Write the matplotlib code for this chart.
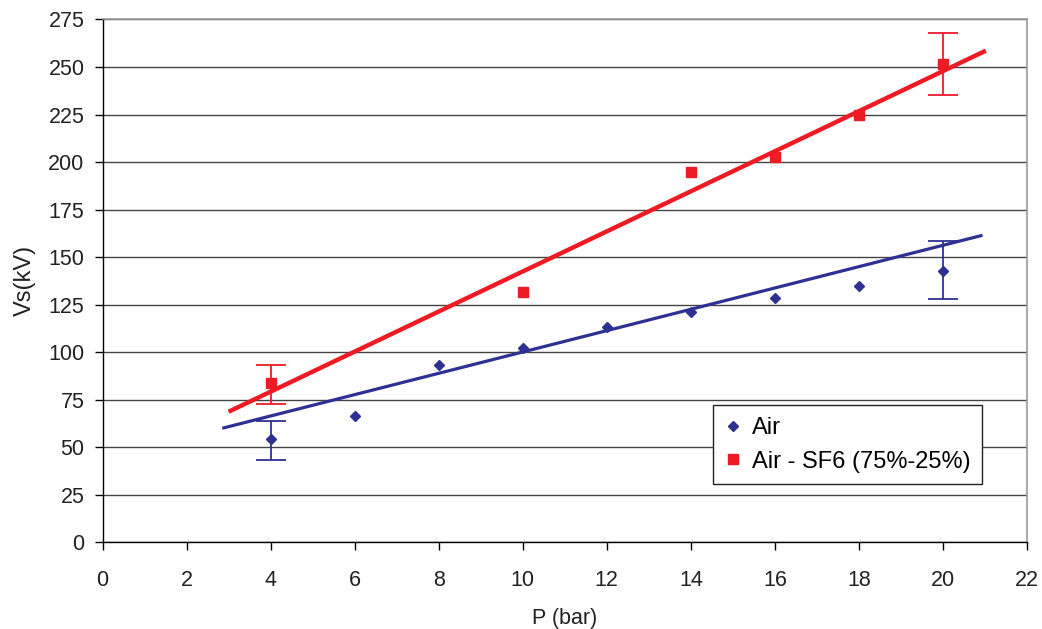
import numpy as np
import matplotlib.pyplot as plt

plt.rcParams['font.family'] = ['Liberation Sans', 'DejaVu Sans']

# data
p_air = [4, 6, 8, 10, 12, 14, 16, 18, 20]
vs_air = [54.5, 66.4, 93.3, 102.4, 113.4, 121.0, 128.5, 134.8, 142.9]
p_sf6 = [4, 10, 14, 16, 18, 20]
vs_sf6 = [84.0, 131.8, 195.0, 202.6, 224.7, 251.4]

# error bars (only on the first and last points)
err_p = [4, 20]
air_err_low = [43.1, 128.2]
air_err_high = [63.6, 158.5]
sf6_err_low = [72.7, 235.4]
sf6_err_high = [93.4, 267.9]

# trend lines (end points)
air_trend_p = [2.85, 20.94]
air_trend_vs = [60.0, 161.5]
sf6_trend_p = [3.0, 21.02]
sf6_trend_vs = [68.7, 258.6]

blue = '#2E3192'
red = '#ED1C24'

fig = plt.figure(figsize=(10.42, 6.29), dpi=100)
ax = fig.add_axes([0.0984, 0.1378, 0.8872, 0.8312])

ax.set_xlim(0, 22)
ax.set_ylim(0, 275)
ax.set_xticks(np.arange(0, 23, 2))
ax.set_yticks(np.arange(0, 276, 25))
ax.yaxis.grid(True, color='#444444', linewidth=1)
ax.set_axisbelow(True)

for s in ['top', 'right']:
    ax.spines[s].set_color('#999999')
    ax.spines[s].set_linewidth(1.2)
for s in ['left', 'bottom']:
    ax.spines[s].set_color('black')
    ax.spines[s].set_linewidth(1)

ax.tick_params(axis='both', direction='out', length=6, width=1, color='black',
               labelsize=15.5, labelcolor='#222222')
ax.tick_params(axis='x', pad=14)
ax.tick_params(axis='y', pad=7)

# trend lines
ax.plot(sf6_trend_p, sf6_trend_vs, color=red, linewidth=3.2, solid_capstyle='butt', zorder=3)
ax.plot(air_trend_p, air_trend_vs, color=blue, linewidth=2.3, solid_capstyle='butt', zorder=3)

# error bars
ax.errorbar(err_p, [(a + b) / 2 for a, b in zip(sf6_err_low, sf6_err_high)],
            yerr=[(b - a) / 2 for a, b in zip(sf6_err_low, sf6_err_high)],
            fmt='none', ecolor=red, elinewidth=1.3, capsize=11, capthick=1.3, zorder=4)
ax.errorbar(err_p, [(a + b) / 2 for a, b in zip(air_err_low, air_err_high)],
            yerr=[(b - a) / 2 for a, b in zip(air_err_low, air_err_high)],
            fmt='none', ecolor=blue, elinewidth=1.3, capsize=11, capthick=1.3, zorder=4)

# points
h_air, = ax.plot(p_air, vs_air, linestyle='none', marker='D', markersize=5.5,
                 color=blue, label='Air', zorder=5)
h_sf6, = ax.plot(p_sf6, vs_sf6, linestyle='none', marker='s', markersize=7,
                 color=red, label='Air - SF6 (75%-25%)', zorder=5)

ax.set_xlabel('P (bar)', fontsize=15.5, color='#222222', labelpad=12)
ax.set_ylabel('Vs(kV)', fontsize=17, color='#222222', labelpad=9)

leg = ax.legend(handles=[h_air, h_sf6], loc='upper left', bbox_to_anchor=(0.660, 0.2626),
                borderaxespad=0, fontsize=17, frameon=True, fancybox=False,
                handlelength=0.7, handletextpad=0.45, borderpad=0.5, labelspacing=0.5)
leg.get_frame().set_edgecolor('#222222')
leg.get_frame().set_linewidth(1)
leg.get_frame().set_alpha(1)

fig.savefig('out.png', dpi=100)
